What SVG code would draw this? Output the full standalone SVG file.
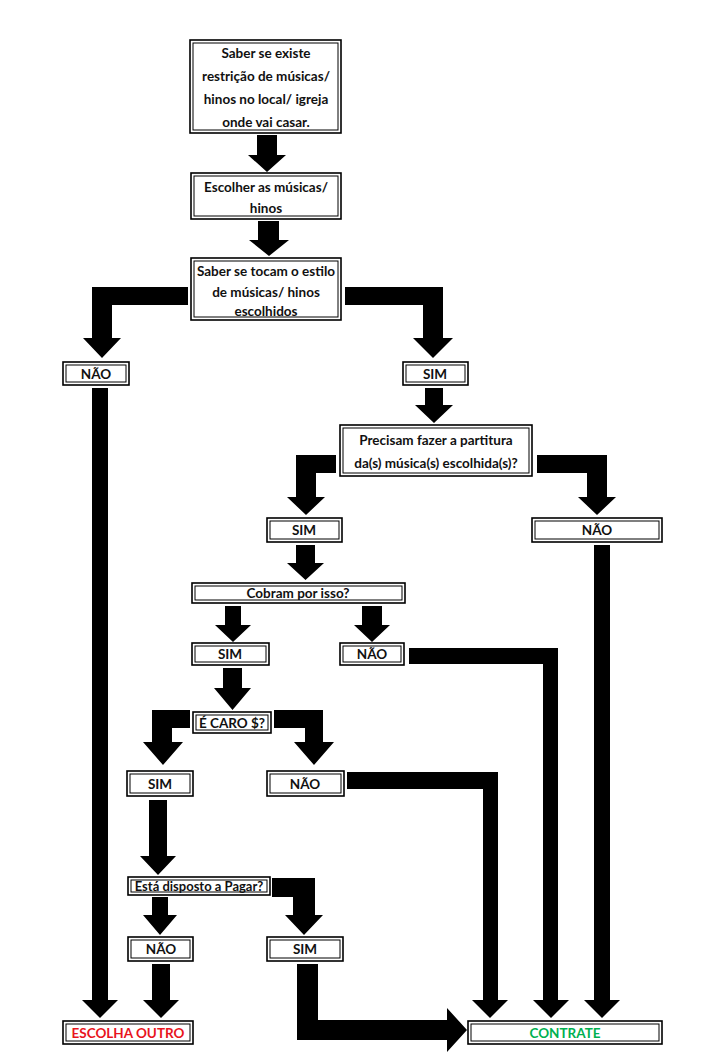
<svg xmlns="http://www.w3.org/2000/svg" width="725" height="1064" viewBox="0 0 725 1064">
<style>
.o{fill:#fff;stroke:#000;stroke-width:1.6}
.i{fill:none;stroke:#000;stroke-width:1}
text{font-family:Lato,"Liberation Sans",sans-serif;font-weight:bold;font-size:13.5px;fill:#111;text-anchor:middle}
.c path{fill:#000}
</style>
<rect width="725" height="1064" fill="#fff"/>
<g class="c" id="connectors">
<path d="M257 135H277V155H286L267 172L248 155H257Z"/>
<path d="M258 221H279V240H289L269 256L249 240H258Z"/>
<path d="M188 287H92V338H83L102 358L121 338H112V305H188Z"/>
<path d="M345 287H443V338H453L433 358L413 338H423V305H345Z"/>
<path d="M92 388H108V1000H118L100 1018L82 1000H92Z"/>
<path d="M425 388H443V405H453L434 423L415 405H425Z"/>
<path d="M336 455H296V497H287L306 515L325 497H316V473H336Z"/>
<path d="M537 455H607V497H616L597 515L578 497H587V473H537Z"/>
<path d="M594 545H610V1000H620L602 1018L584 1000H594Z"/>
<path d="M296 545H315V563H324L305.5 580L287 563H296Z"/>
<path d="M225 606H241V625H251L233 642L215 625H225Z"/>
<path d="M362 606H382V625H390L372 642L354 625H362Z"/>
<path d="M409 648H558V1000H569L551 1018L533 1000H543V664H409Z"/>
<path d="M223 668H242V688H251L232.5 710L214 688H223Z"/>
<path d="M190 710H152V742H143L163 765L183 742H172V728H190Z"/>
<path d="M274 710H323V742H334L314 765L294 742H305V728H274Z"/>
<path d="M347 772H498V1000H508L490 1018L472 1000H483V789H347Z"/>
<path d="M149 800H167V856H176L158 875L140 856H149Z"/>
<path d="M272 878H315V915H323L304 935L285 915H293V897H272Z"/>
<path d="M152 897H168V915H177L160 935L143 915H152Z"/>
<path d="M152 964H170V1000H179L161 1018L143 1000H152Z"/>
<path d="M297 964H318V1020H447V1008L467 1030L447 1052V1040H297Z"/>
</g>
<g id="n1"><rect class="o" x="190" y="40" width="151" height="93"/><rect class="i" x="193" y="43" width="145" height="87"/>
<text x="266" y="58">Saber se existe</text><text x="266" y="81">restrição de músicas/</text><text x="266" y="104">hinos no local/ igreja</text><text x="266" y="127">onde vai casar.</text></g>
<g id="n2"><rect class="o" x="191" y="173" width="150" height="46"/><rect class="i" x="194" y="176" width="144" height="40"/>
<text x="266" y="192">Escolher as músicas/</text><text x="266" y="213">hinos</text></g>
<g id="n3"><rect class="o" x="191" y="258" width="150" height="62"/><rect class="i" x="194" y="261" width="144" height="56"/>
<text x="266" y="276">Saber se tocam o estilo</text><text x="266" y="297">de músicas/ hinos</text><text x="266" y="316">escolhidos</text></g>
<g id="n4"><rect class="o" x="63" y="362" width="66" height="23"/><rect class="i" x="66" y="365" width="60" height="17"/><text x="96" y="379">NÃO</text></g>
<g id="n5"><rect class="o" x="403" y="362" width="65" height="23"/><rect class="i" x="406" y="365" width="59" height="17"/><text x="435" y="379">SIM</text></g>
<g id="n6"><rect class="o" x="340" y="425" width="192" height="51"/><rect class="i" x="343" y="428" width="186" height="45"/>
<text x="436" y="445">Precisam fazer a partitura</text><text x="436" y="468">da(s) música(s) escolhida(s)?</text></g>
<g id="n7"><rect class="o" x="267" y="518" width="75" height="24"/><rect class="i" x="270" y="521" width="69" height="18"/><text x="304" y="535">SIM</text></g>
<g id="n8"><rect class="o" x="532" y="518" width="130" height="24"/><rect class="i" x="535" y="521" width="124" height="18"/><text x="597" y="535">NÃO</text></g>
<g id="n9"><rect class="o" x="192" y="583" width="213" height="20"/><rect class="i" x="195" y="586" width="207" height="14"/><text x="298" y="598">Cobram por isso?</text></g>
<g id="n10"><rect class="o" x="192" y="643" width="77" height="22"/><rect class="i" x="195" y="646" width="71" height="16"/><text x="230" y="659">SIM</text></g>
<g id="n11"><rect class="o" x="340" y="643" width="64" height="22"/><rect class="i" x="343" y="646" width="58" height="16"/><text x="372" y="659">NÃO</text></g>
<g id="n12"><rect class="o" x="193" y="712" width="78" height="21"/><rect class="i" x="196" y="715" width="72" height="15"/><text x="232" y="728">É CARO $?</text></g>
<g id="n13"><rect class="o" x="127" y="771" width="66" height="25"/><rect class="i" x="130" y="774" width="60" height="19"/><text x="160" y="789">SIM</text></g>
<g id="n14"><rect class="o" x="267" y="771" width="77" height="25"/><rect class="i" x="270" y="774" width="71" height="19"/><text x="305" y="789">NÃO</text></g>
<g id="n15"><rect class="o" x="128" y="877" width="142" height="18"/><rect class="i" x="131" y="880" width="136" height="12"/><text x="199" y="891" style="font-size:13px">Está disposto a Pagar?</text></g>
<g id="n16"><rect class="o" x="128" y="937" width="65" height="24"/><rect class="i" x="131" y="940" width="59" height="18"/><text x="161" y="954">NÃO</text></g>
<g id="n17"><rect class="o" x="267" y="937" width="76" height="24"/><rect class="i" x="270" y="940" width="70" height="18"/><text x="305" y="954">SIM</text></g>
<g id="n18"><rect class="o" x="63" y="1021" width="130" height="23"/><rect class="i" x="66" y="1024" width="124" height="17"/><text x="128" y="1038" style="fill:#e8141c">ESCOLHA OUTRO</text></g>
<g id="n19"><rect class="o" x="468" y="1021" width="194" height="23"/><rect class="i" x="471" y="1024" width="188" height="17"/><text x="565" y="1038" style="fill:#00b050">CONTRATE</text></g>
</svg>
